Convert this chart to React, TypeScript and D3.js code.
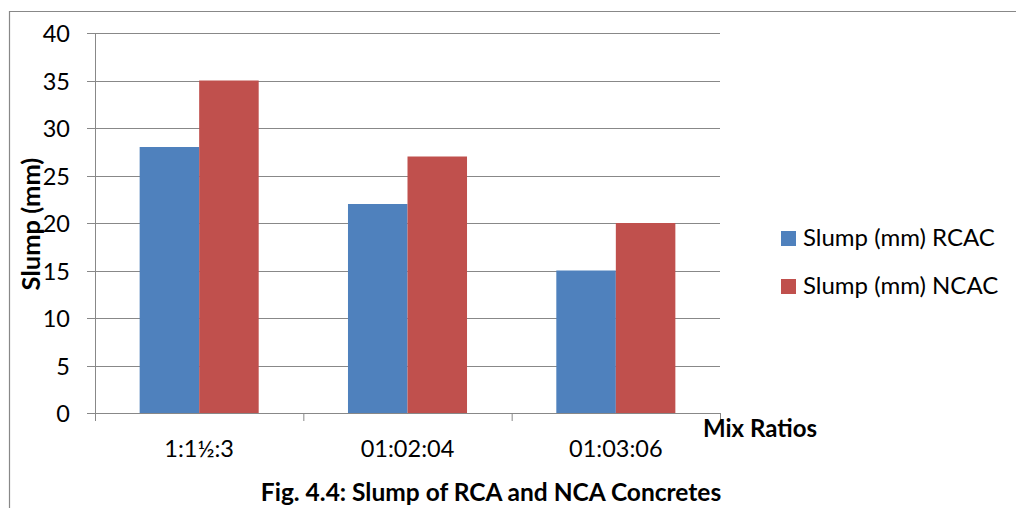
import React from "react";
import * as d3 from "d3";

const categories = ["1:1½:3", "01:02:04", "01:03:06"];
const seriesNames = ["Slump (mm) RCAC", "Slump (mm) NCAC"];
const rcac = [28, 22, 15];
const ncac = [35, 27, 20];
const yTicks = [0, 5, 10, 15, 20, 25, 30, 35, 40];
const colors = ["#4F81BD", "#C0504D"];

const W = 1016, H = 508;
const left = 95, right = 720, top = 33, bottom = 413;
const font = "Lato, 'Open Sans', sans-serif";

export default function App() {
  const x = d3.scaleBand<string>().domain(categories).range([left, right]).paddingInner(0.4286).paddingOuter(0.2143);
  const y = d3.scaleLinear().domain([0, 40]).range([bottom, top]);
  const series = [rcac, ncac];
  const bw = x.bandwidth() / 2;
  const step = (right - left) / categories.length;
  return (
    <svg width={W} height={H} style={{ position: "absolute", left: 0, top: 0 }}>
      <rect x={0} y={0} width={W} height={H} fill="#fff" />
      <path d={`M9.5,${H} V11.5 H${W}`} fill="none" stroke="#888" strokeWidth={1.2} />
      {yTicks.map((t) => (
        <g key={t}>
          <line x1={left - 8} x2={right} y1={Math.round(y(t)) + 0.5} y2={Math.round(y(t)) + 0.5} stroke="#888" strokeWidth={1} />
          <text x={70} y={y(t) + 9} textAnchor="end" fontFamily={font} fontSize={23.5} fill="#000">{t}</text>
        </g>
      ))}
      <line x1={left + 0.5} x2={left + 0.5} y1={top} y2={bottom + 8} stroke="#888" />
      {categories.map((c, i) => (
        <line key={c} x1={left + step * (i + 1) + 0.5} x2={left + step * (i + 1) + 0.5} y1={bottom} y2={bottom + 8} stroke="#888" />
      ))}
      {categories.map((c, i) =>
        series.map((s, j) => (
          <rect key={c + j} x={(x(c) as number) + j * bw} y={y(s[i])} width={bw} height={bottom - y(s[i])} fill={colors[j]} />
        ))
      )}
      {categories.map((c) => (
        <text key={c} x={(x(c) as number) + x.bandwidth() / 2} y={457} textAnchor="middle" fontFamily={font} fontSize={23.5}>{c}</text>
      ))}
      <text x={760} y={437} textAnchor="middle" fontFamily={font} fontSize={24} fontWeight="bold">Mix Ratios</text>
      <text x={491} y={501} textAnchor="middle" fontFamily={font} fontSize={24.5} fontWeight="bold">Fig. 4.4: Slump of RCA and NCA Concretes</text>
      <text transform={`translate(31,224) rotate(-90)`} dy="0.35em" textAnchor="middle" fontFamily={font} fontSize={25.5} fontWeight="bold">Slump (mm)</text>
      {seriesNames.map((n, j) => (
        <g key={n}>
          <rect x={781} y={231 + j * 48} width={15} height={15} fill={colors[j]} />
          <text x={803} y={246 + j * 48} fontFamily={font} fontSize={24}>{n}</text>
        </g>
      ))}
    </svg>
  );
}
